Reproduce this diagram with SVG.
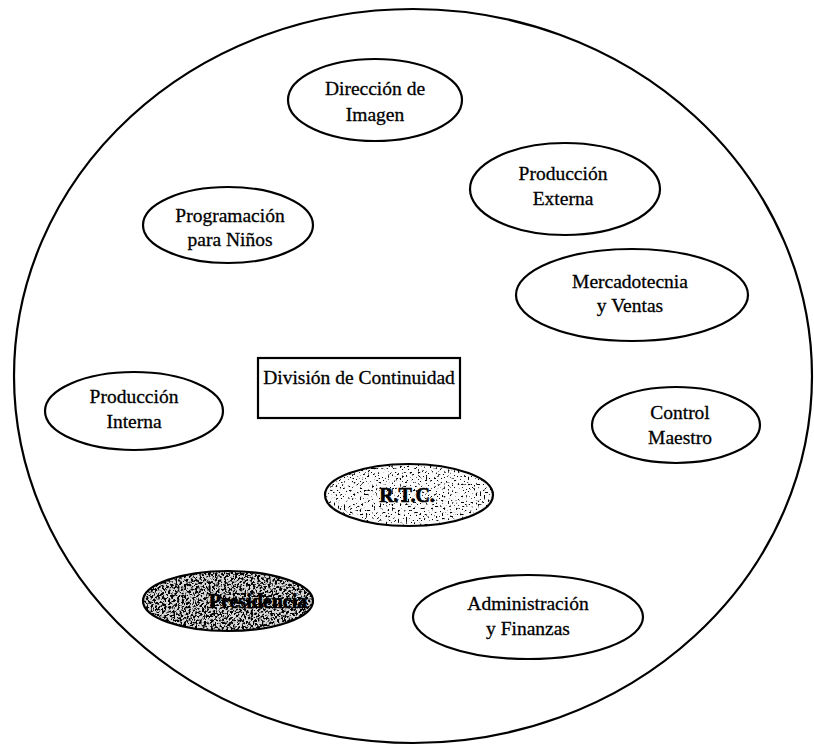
<svg xmlns="http://www.w3.org/2000/svg" width="814" height="746" viewBox="0 0 814 746">
  <defs>
    <style>
      .shape { fill: none; stroke: #000; stroke-width: 2.2; }
      .node { fill: #fff; stroke: #000; stroke-width: 2.2; }
      .lbl { font-family: "Liberation Serif", "Times New Roman", serif; font-size: 19.5px; fill: #000; stroke: #000; stroke-width: 0.3; text-anchor: middle; }
      .bold { font-weight: bold; font-size: 20px; stroke-width: 0.6; }
    </style>
    <!-- speckled fill used by the shaded ellipses -->
    <filter id="grainLight" x="0" y="0" width="1" height="1">
      <feTurbulence type="fractalNoise" baseFrequency="0.5" numOctaves="2" seed="4" result="n"/>
      <feColorMatrix in="n" type="matrix" values="0 0 0 0 0  0 0 0 0 0  0 0 0 0 0  -9 0 0 0 3.6" result="dots"/>
      <feComposite in="dots" in2="SourceGraphic" operator="in"/>
    </filter>
    <filter id="grainDark" x="0" y="0" width="1" height="1">
      <feTurbulence type="fractalNoise" baseFrequency="0.45" numOctaves="2" seed="9" result="n"/>
      <feColorMatrix in="n" type="matrix" values="0 0 0 0 0  0 0 0 0 0  0 0 0 0 0  -8 0 0 0 4.3" result="dots"/>
      <feComposite in="dots" in2="SourceGraphic" operator="in"/>
    </filter>
  </defs>

  <rect width="814" height="746" fill="#fff"/>

  <!-- outer boundary -->
  <g id="boundary">
    <ellipse class="shape" cx="413" cy="376" rx="399" ry="367"/>
  </g>

  <g id="direccion-imagen">
    <ellipse class="node" cx="375" cy="100" rx="87" ry="41"/>
    <text class="lbl" x="375" y="95">Dirección de</text>
    <text class="lbl" x="375" y="121">Imagen</text>
  </g>

  <g id="produccion-externa">
    <ellipse class="node" cx="565" cy="189" rx="95" ry="46"/>
    <text class="lbl" x="563" y="180">Producción</text>
    <text class="lbl" x="563" y="205">Externa</text>
  </g>

  <g id="programacion-ninos">
    <ellipse class="node" cx="228" cy="225" rx="85" ry="38"/>
    <text class="lbl" x="230" y="222">Programación</text>
    <text class="lbl" x="230" y="246">para Niños</text>
  </g>

  <g id="mercadotecnia-ventas">
    <ellipse class="node" cx="632" cy="295" rx="116" ry="46"/>
    <text class="lbl" x="630" y="288">Mercadotecnia</text>
    <text class="lbl" x="630" y="312">y Ventas</text>
  </g>

  <g id="produccion-interna">
    <ellipse class="node" cx="134" cy="411" rx="89" ry="39"/>
    <text class="lbl" x="134" y="403">Producción</text>
    <text class="lbl" x="134" y="428">Interna</text>
  </g>

  <g id="division-continuidad">
    <rect class="node" x="258" y="358" width="202" height="60"/>
    <text class="lbl" x="359" y="384">División de Continuidad</text>
  </g>

  <g id="control-maestro">
    <ellipse class="node" cx="676" cy="425" rx="84" ry="38"/>
    <text class="lbl" x="680" y="419">Control</text>
    <text class="lbl" x="680" y="444">Maestro</text>
  </g>

  <g id="rtc">
    <ellipse cx="409" cy="495" rx="84" ry="31" fill="#fafafa"/>
    <ellipse cx="409" cy="495" rx="84" ry="31" fill="#222" filter="url(#grainLight)"/>
    <ellipse class="shape" cx="409" cy="495" rx="84" ry="31"/>
    <text class="lbl bold" x="407" y="502">R.T.C.</text>
  </g>

  <g id="presidencia">
    <ellipse cx="228" cy="601" rx="85" ry="30" fill="#d8d8d8"/>
    <ellipse cx="228" cy="601" rx="85" ry="30" fill="#222" filter="url(#grainDark)"/>
    <ellipse class="shape" cx="228" cy="601" rx="85" ry="30"/>
    <text class="lbl bold" x="258" y="608">Presidencia</text>
  </g>

  <g id="administracion-finanzas">
    <ellipse class="node" cx="528" cy="617" rx="115" ry="42"/>
    <text class="lbl" x="528" y="610">Administración</text>
    <text class="lbl" x="528" y="635">y Finanzas</text>
  </g>

  <!-- the diagram has no connectors -->
  <g id="connectors"/>
</svg>
